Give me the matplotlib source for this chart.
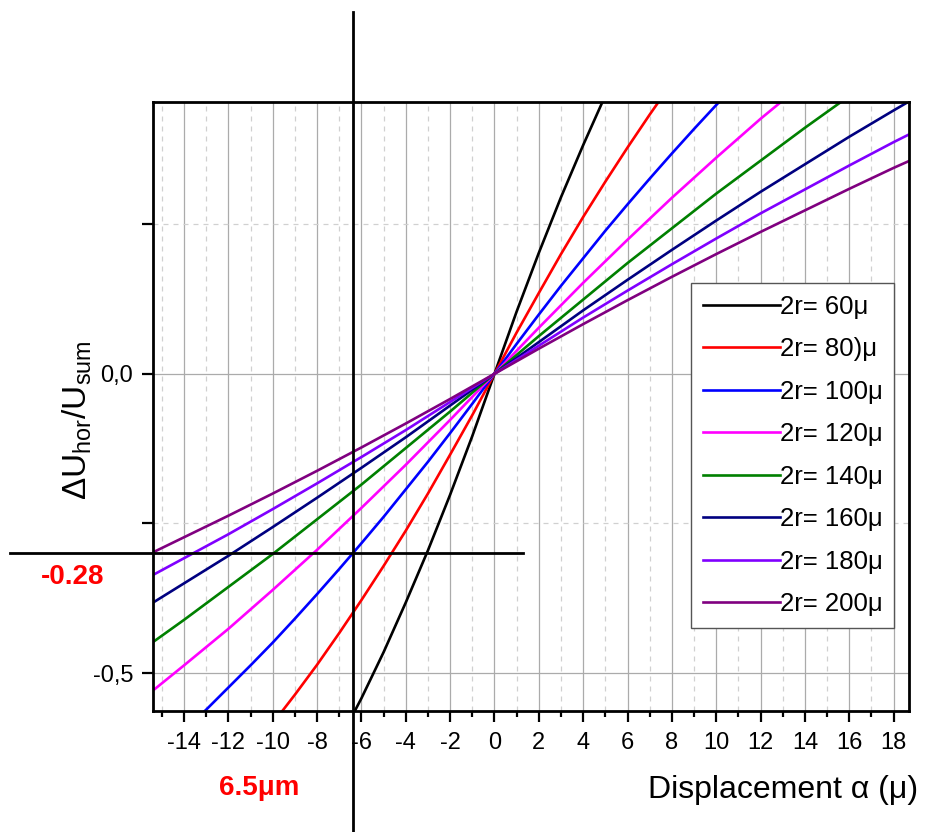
import numpy as np
import matplotlib
matplotlib.use("Agg")
import matplotlib.pyplot as plt

plt.rcParams['font.family'] = ['Liberation Sans', 'DejaVu Sans']
plt.rcParams['mathtext.fontset'] = 'custom'
plt.rcParams['mathtext.rm'] = 'Liberation Sans'
plt.rcParams['mathtext.it'] = 'Liberation Sans:italic'

# displacement grids (micron): fine one for the steep curves, coarse one for the rest
alpha_fine = [-14, -13, -12, -11, -10, -9, -8, -7, -6, -5, -4, -3, -2, -1, 0,
              1, 2, 3, 4, 5, 6, 7, 8, 9, 10, 11, 12, 13, 14]
alpha = [-16, -14, -12, -10, -8, -6, -4, -2, 0, 2, 4, 6, 8, 10, 12, 14, 16, 18, 20]

# dU_hor/U_sum for each spot size (None = off the plot)
d60 = [None, None, None, None, None, None, -0.680, -0.613, -0.542, -0.465, -0.382,
       -0.295, -0.202, -0.104, 0.0, 0.104, 0.202, 0.295, 0.382, 0.465, 0.542,
       0.613, 0.680, None, None, None, None, None, None]
d80 = [None, None, None, None, -0.584, -0.536, -0.486, -0.433, -0.378, -0.321,
       -0.262, -0.200, -0.135, -0.069, 0.0, 0.069, 0.135, 0.200, 0.262, 0.321,
       0.378, 0.433, 0.486, 0.536, 0.584, None, None, None, None]
d100 = [-0.596, -0.561, -0.524, -0.487, -0.449, -0.409, -0.368, -0.326, -0.283,
        -0.239, -0.193, -0.147, -0.099, -0.050, 0.0, 0.050, 0.099, 0.147, 0.193,
        0.239, 0.283, 0.326, 0.368, 0.409, 0.449, 0.487, 0.524, 0.561, 0.596]
d120 = [-0.547, -0.487, -0.426, -0.361, -0.294, -0.224, -0.152, -0.077, 0.0,
        0.077, 0.152, 0.224, 0.294, 0.361, 0.426, 0.487, 0.547, None, None]
d140 = [-0.464, -0.411, -0.356, -0.301, -0.243, -0.185, -0.124, -0.063, 0.0,
        0.063, 0.124, 0.185, 0.243, 0.301, 0.356, 0.411, 0.464, 0.516, None]
d160 = [-0.396, -0.350, -0.304, -0.256, -0.207, -0.157, -0.106, -0.053, 0.0,
        0.053, 0.106, 0.157, 0.207, 0.256, 0.304, 0.350, 0.396, 0.440, 0.483]
d180 = [-0.348, -0.308, -0.268, -0.226, -0.183, -0.139, -0.094, -0.047, 0.0,
        0.047, 0.094, 0.139, 0.183, 0.226, 0.268, 0.308, 0.348, 0.387, 0.424]
d200 = [-0.309, -0.273, -0.237, -0.200, -0.162, -0.123, -0.083, -0.042, 0.0,
        0.042, 0.083, 0.123, 0.162, 0.200, 0.237, 0.273, 0.309, 0.344, 0.377]

curves = [(alpha_fine, d60), (alpha_fine, d80), (alpha_fine, d100), (alpha, d120),
          (alpha, d140), (alpha, d160), (alpha, d180), (alpha, d200)]
labels = ["2r= 60\u03bc", "2r= 80)\u03bc", "2r= 100\u03bc", "2r= 120\u03bc",
          "2r= 140\u03bc", "2r= 160\u03bc", "2r= 180\u03bc", "2r= 200\u03bc"]
colors = ["#000000", "#ff0000", "#0000ff", "#ff00ff",
          "#008000", "#000080", "#8000ff", "#800080"]

# marked working point
mark_x = -6.4
mark_y = -0.30

fig = plt.figure(figsize=(9.4, 8.32), dpi=100)
ax = fig.add_axes([0.1625, 0.1458, 0.8049, 0.7312])

for (xs, vals), lab, col in zip(curves, labels, colors):
    ax.plot(xs, np.array(vals, dtype=float), color=col, lw=1.9, label=lab)

ax.set_xlim(-15.41, 18.71)
ax.set_ylim(-0.5627, 0.4535)

ax.set_xticks(np.arange(-14, 19, 2))
ax.set_xticklabels([str(v) for v in range(-14, 19, 2)])
ax.set_xticks(np.arange(-15, 19, 2), minor=True)
ax.set_yticks([-0.5, 0.0])
ax.set_yticklabels(["-0,5", "0,0"])
ax.set_yticks([-0.25, 0.25], minor=True)

ax.set_axisbelow(True)
ax.grid(which='major', color='#ababab', lw=0.9, ls='-')
ax.grid(which='minor', color='#d0d0d0', lw=0.9, ls=(0, (4, 4)))

ax.tick_params(which='major', direction='out', length=8, width=1.6, labelsize=17)
ax.tick_params(axis='x', which='major', pad=7)
ax.tick_params(axis='y', which='major', pad=6)
ax.tick_params(axis='x', which='minor', direction='out', length=4, width=1.6)
ax.tick_params(axis='y', which='minor', direction='out', length=8, width=1.6)
for s in ax.spines.values():
    s.set_linewidth(2)

# guide lines running outside the frame
ax.axhline(mark_y, xmin=-0.1886, xmax=0.4894, color='black', lw=2, clip_on=False)
ax.axvline(mark_x, ymin=-0.1994, ymax=1.148, color='black', lw=2, clip_on=False)

leg = ax.legend(loc='upper left', bbox_to_anchor=(0.7115, 0.7030), borderaxespad=0,
                fontsize=18.5, handlelength=3.0, handletextpad=0.0, labelspacing=0.72,
                borderpad=0.45, fancybox=False, framealpha=1)
leg.get_frame().set_edgecolor('#555555')
leg.get_frame().set_linewidth(1)

W, H = 940, 832
fig.text(783 / W, 1 - 790 / H, "Displacement \u03b1 (\u03bc)", fontsize=23,
         ha='center', va='center')
fig.text(77 / W, 1 - 420 / H, r'$\Delta$U$_{\rm hor}$/U$_{\rm sum}$', fontsize=24,
         rotation=90, ha='center', va='center')
fig.text(259 / W, 1 - 788 / H, "6.5\u03bcm", fontsize=20, color='red',
         fontweight='bold', ha='center', va='center')
fig.text(73 / W, 1 - 577 / H, "-0.28", fontsize=20, color='red',
         fontweight='bold', ha='center', va='center')

fig.savefig("out.png", dpi=100)
